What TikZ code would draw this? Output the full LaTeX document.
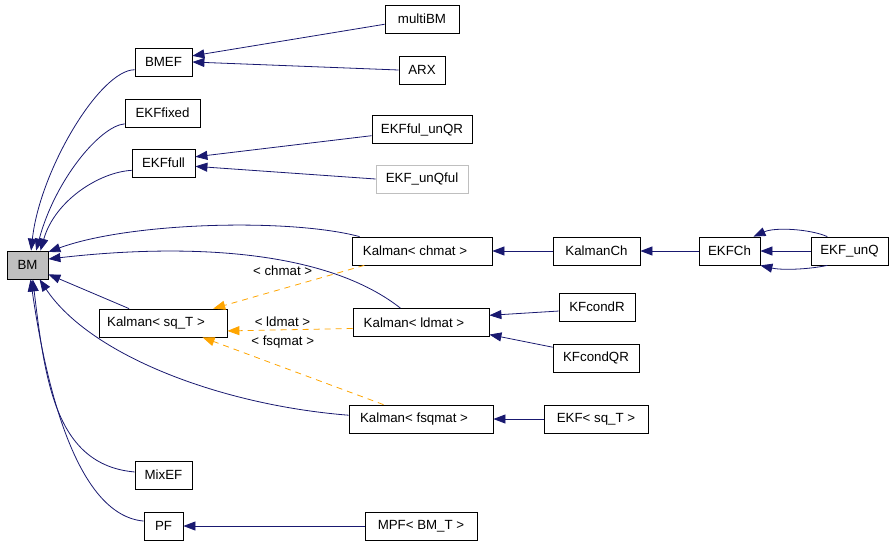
\documentclass[tikz,border=0pt]{standalone}
\usepackage{fontspec}
\setmainfont{Liberation Sans}
\usepackage{tikz}
\usetikzlibrary{arrows.meta}
\definecolor{edgeblue}{HTML}{191970}
\definecolor{tplorange}{HTML}{FFA500}
\definecolor{bmgray}{HTML}{BFBFBF}

\begin{document}
\begin{tikzpicture}[x=1pt,y=-1pt,->,>={Triangle[length=12pt,width=9pt]},edgeblue,line width=0.8pt,font=\fontsize{13.3}{16}\selectfont]
    \tikzstyle{cls}=[draw=black,rectangle,minimum height=28pt,inner sep=0pt,text=black,line width=0.8pt]
    \tikzstyle{kal}=[cls,execute at end node=\hspace*{14pt}]
    \tikzstyle{tpl}=[draw=tplorange,tplorange,dash pattern=on 6pt off 5pt]
    \tikzstyle{lbl}=[text=black,inner sep=0pt]

    \useasboundingbox (0,0) rectangle (893,544);

    \node[cls,fill=bmgray,minimum width=41pt] (BM) at (27.5,265) {BM};
    \node[cls,minimum width=57pt] (BMEF) at (163.5,62) {BMEF};
    \node[cls,minimum width=74pt] (multiBM) at (422,19) {multiBM};
    \node[cls,minimum width=46pt] (ARX) at (422,70) {ARX};
    \node[cls,minimum width=75pt] (EKFfixed) at (162.5,113) {EKFfixed};
    \node[cls,minimum width=100pt] (EKFfulunQR) at (422,129.5) {EKFful\_unQR};
    \node[cls,minimum width=63pt] (EKFfull) at (163.5,163) {EKFfull};
    \node[cls,draw=bmgray,minimum width=92pt] (EKFunQful) at (422,179) {EKF\_unQful};
    \node[kal,minimum width=140pt] (Kchmat) at (422,251) {Kalman< chmat >};
    \node[kal,minimum width=128pt] (KsqT) at (163,323) {Kalman< sq\_T >};
    \node[kal,minimum width=136pt] (Kldmat) at (421,322.5) {Kalman< ldmat >};
    \node[kal,minimum width=144pt] (Kfsqmat) at (421,419) {Kalman< fsqmat >};
    \node[cls,minimum width=57pt] (MixEF) at (163.5,475) {MixEF};
    \node[cls,minimum width=39pt] (PF) at (163.5,526) {PF};
    \node[cls,minimum width=112pt] (MPF) at (421,526) {MPF< BM\_T >};
    \node[cls,minimum width=87pt] (KalmanCh) at (596.5,251) {KalmanCh};
    \node[cls,minimum width=61pt] (EKFCh) at (729.5,251) {EKFCh};
    \node[cls,minimum width=77pt] (EKFunQ) at (849.5,251) {EKF\_unQ};
    \node[cls,minimum width=76pt] (KFcondR) at (597,307) {KFcondR};
    \node[cls,minimum width=86pt] (KFcondQR) at (596,358) {KFcondQR};
    \node[cls,minimum width=104pt] (EKFsqT) at (596,419) {EKF< sq\_T >};

    % straight inheritance edges
    \path
        (multiBM.188) edge (BMEF.12)
        (ARX.west) edge (BMEF.east)
        (EKFfulunQR.187) edge (EKFfull.11)
        (EKFunQful.west) edge (EKFfull.354)
        (KsqT.157) edge (BM.336)
        (MPF) edge (PF)
        (KalmanCh) edge (Kchmat)
        (EKFCh) edge (KalmanCh)
        (EKFunQ) edge (EKFCh)
        (KFcondR.186) edge (Kldmat.6)
        (KFcondQR.166) edge (Kldmat.350)
        (EKFsqT) edge (Kfsqmat);

    % curved edges into BM
    \draw (BMEF.195) .. controls (100,70) and (40,170) .. (BM.76);
    \draw (EKFfixed.196) .. controls (100,126) and (55,180) .. (BM.59);
    \draw (EKFfull.193) .. controls (100,172) and (55,200) .. (BM.48);
    \draw (Kchmat.167) .. controls (290,218) and (130,222) .. (BM.32);
    \draw (Kldmat.145) .. controls (320,245) and (170,245) .. (BM.16);
    \draw (Kfsqmat.177) .. controls (220,405) and (90,355) .. (BM.310);
    \draw (MixEF.174) .. controls (55,465) and (45,380) .. (BM.290);
    \draw (PF.166) .. controls (75,515) and (45,380) .. (BM.282);
    \draw (EKFunQ.147) .. controls (810,229) and (775,227) .. (EKFCh.31);
    \draw (EKFunQ.213) .. controls (805,270) and (780,270) .. (EKFCh.335);

    % template instances
    \path
        (Kchmat.194) edge[tpl] node[lbl,pos=0.54,yshift=18pt] {< chmat >} (KsqT.16)
        (Kldmat.185) edge[tpl] node[lbl,pos=0.56,yshift=8pt] {< ldmat >} (KsqT.353)
        (Kfsqmat.159) edge[tpl] node[lbl,pos=0.557,yshift=25pt] {< fsqmat >} (KsqT.340);
\end{tikzpicture}
\end{document}
